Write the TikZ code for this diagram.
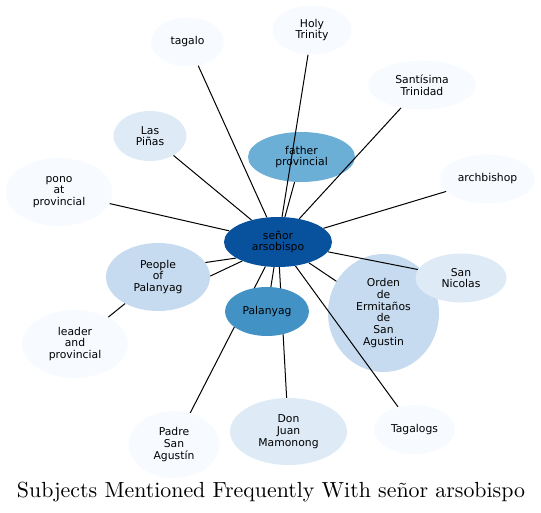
\documentclass[tikz,border=0pt]{standalone}
\usepackage{fontspec}
\setsansfont{DejaVu Sans}
\newfontfamily\titlefont{lmroman10-regular}[Extension=.otf]
\usetikzlibrary{shapes.geometric}
\definecolor{b1}{HTML}{F7FBFF}
\definecolor{b2}{HTML}{DEEBF7}
\definecolor{b3}{HTML}{C6DBEF}
\definecolor{b5}{HTML}{6BAED6}
\definecolor{b6}{HTML}{4292C6}
\definecolor{b8}{HTML}{08519C}
\pgfdeclarelayer{back}
\pgfdeclarelayer{mid}
\pgfsetlayers{back,mid,main}
\tikzset{
  ent/.style={ellipse, draw=none, inner sep=0pt, align=center, text=black,
    font=\sffamily\fontsize{10.8}{11.7}\selectfont},
  link/.style={draw=black, line width=1pt},
}
\begin{document}
\begin{tikzpicture}[x=1pt,y=-1pt]
\useasboundingbox (0,0) rectangle (541,513);
\begin{pgfonlayer}{back}
\node[ent, fill=b5, minimum width=107, minimum height=50] (fp) at (301.5,157) {father\\provincial};
\node[ent, fill=b3, minimum width=111, minimum height=118] (orden) at (383.5,313) {Orden\\de\\Ermitaños\\de\\San\\Agustin};
\end{pgfonlayer}
\node[ent, fill=b8, minimum width=108, minimum height=50] (ctr) at (278,242) {señor\\arsobispo};
\node[ent, fill=b1, minimum width=73, minimum height=49] (tagalo) at (187.5,42) {tagalo};
\node[ent, fill=b1, minimum width=79, minimum height=49] (holy) at (312,30) {Holy\\Trinity};
\node[ent, fill=b1, minimum width=108, minimum height=49] (sant) at (422,85) {Santísima\\Trinidad};
\node[ent, fill=b2, minimum width=73, minimum height=50] (pinas) at (150,136) {Las\\Piñas};
\node[ent, fill=b1, minimum width=95, minimum height=49] (arch) at (487.5,179) {archbishop};
\node[ent, fill=b1, minimum width=107, minimum height=68] (pono) at (59,192) {pono\\at\\provincial};
\node[ent, fill=b3, minimum width=104, minimum height=68] (ppl) at (158,277) {People\\of\\Palanyag};
\node[ent, fill=b1, minimum width=106, minimum height=68] (leader) at (75,344) {leader\\and\\provincial};
\node[ent, fill=b6, minimum width=84, minimum height=49] (pal) at (267,311.5) {Palanyag};
\node[ent, fill=b2, minimum width=91, minimum height=49] (nic) at (461,278) {San\\Nicolas};
\node[ent, fill=b1, minimum width=91, minimum height=67] (padre) at (174,444.5) {Padre\\San\\Agustín};
\node[ent, fill=b2, minimum width=117, minimum height=67] (juan) at (288.5,431.5) {Don\\Juan\\Mamonong};
\node[ent, fill=b1, minimum width=81, minimum height=49] (tgs) at (414.5,429.5) {Tagalogs};
\node[anchor=base, inner sep=0pt] (title) at (271,497.3) {\resizebox{508pt}{!}{\titlefont\fontsize{20}{24}\selectfont Subjects Mentioned Frequently With señor arsobispo}};
\begin{pgfonlayer}{mid}
\draw[link] (ctr) -- (tagalo);
\draw[link] (ctr) -- (holy);
\draw[link] (ctr) -- (sant);
\draw[link] (ctr) -- (fp);
\draw[link] (ctr) -- (pinas);
\draw[link] (ctr) -- (pono);
\draw[link] (ctr) -- (arch);
\draw[link] (ppl.17) -- (ctr.201);
\draw[link] (ppl.1) -- (ctr.208);
\draw[link] (leader) -- (ppl);
\draw[link] (ctr) -- (nic);
\draw[link] (ctr) -- (orden);
\draw[link] (ctr) -- (pal);
\draw[link] (ctr) -- (padre);
\draw[link] (ctr) -- (juan);
\draw[link] (ctr) -- (tgs);
\end{pgfonlayer}
\end{tikzpicture}
\end{document}
